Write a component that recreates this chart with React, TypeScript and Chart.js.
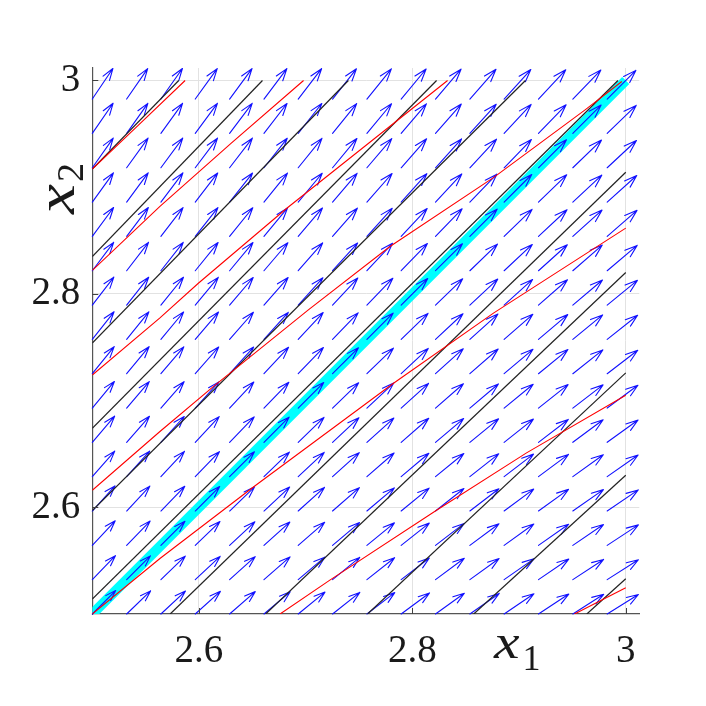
import React, { useEffect, useRef } from "react";
import { Chart, registerables } from "chart.js";

Chart.register(...registerables);

// ---- data ----
const X_RANGE = [2.5, 3.0127];
const Y_RANGE = [2.5, 3.0117];

const X_TICKS = [2.6, 2.8, 3];
const X_TICK_LABELS = ["2.6", "2.8", "3"];
const Y_TICKS = [2.6, 2.8, 3];
const Y_TICK_LABELS = ["2.6", "2.8", "3"];

const X_LABEL = ["x", "1"];
const Y_LABEL = ["x", "2"];

// quiver grid (tails)
const X1_GRID = [2.5, 2.5322, 2.5643, 2.5965, 2.6287, 2.6609, 2.693, 2.7252, 2.7574, 2.7895, 2.8217, 2.8539, 2.886, 2.9182, 2.9504, 2.9826];
const X2_GRID = [2.5, 2.5322, 2.5643, 2.5965, 2.6287, 2.6609, 2.693, 2.7252, 2.7574, 2.7895, 2.8217, 2.8539, 2.886, 2.9182, 2.9504, 2.9826];

// arrow direction (degrees) along each diagonal offset k = row - col, k = -15 .. 15
const ARROW_ANGLE = [32, 32.5, 33.3, 34.2, 35, 35.8, 36.6, 37.5, 38.4, 39.3, 40.2, 41.1, 42, 43, 44, 45, 46, 47, 47.9, 48.7, 49.5, 50.3, 51, 51.7, 52.4, 53, 53.6, 54.2, 54.8, 55.4, 56];
// arrow length (axis units) along each anti-diagonal s = row + col, s = 0 .. 30
const ARROW_LENGTH = [0.031, 0.0312, 0.0315, 0.0317, 0.0319, 0.0322, 0.0324, 0.0326, 0.0329, 0.0331, 0.0333, 0.0336, 0.0338, 0.034, 0.0343, 0.0345, 0.0347, 0.035, 0.0352, 0.0354, 0.0357, 0.0359, 0.0361, 0.0364, 0.0366, 0.0368, 0.0371, 0.0373, 0.0375, 0.0378, 0.038];

// cyan diagonal
const DIAG_X = [2.5, 3];
const DIAG_Y = [2.5, 3];

// black lines
const BLACK_X = [
  [2.5, 2.581],
  [2.5, 2.6595],
  [2.5, 2.74],
  [2.5, 2.8227],
  [2.5, 2.906],
  [2.5, 2.9927],
  [2.573, 3],
  [2.6625, 3],
  [2.758, 3],
  [2.8575, 3],
  [2.9635, 3],
];
const BLACK_Y = [
  [2.917, 3],
  [2.835, 3],
  [2.754, 3],
  [2.674, 3],
  [2.597, 3],
  [2.514, 3],
  [2.5, 2.914],
  [2.5, 2.82],
  [2.5, 2.726],
  [2.5, 2.63],
  [2.5, 2.533],
];

// red curves
const RED_X = [
  [2.5, 2.543, 2.587],
  [2.5, 2.5634, 2.63, 2.698],
  [2.5, 2.5634, 2.5994, 2.682, 2.833],
  [2.5, 2.5634, 2.6134, 2.7025, 2.779, 2.876, 2.9619, 2.9963],
  [2.5, 2.5634, 2.651, 2.782, 2.876, 3.0],
  [2.676, 2.723, 2.823, 2.907, 3.0],
  [2.952, 3.0],
];
const RED_Y = [
  [2.917, 2.958, 3],
  [2.822, 2.882, 2.941, 3],
  [2.724, 2.7775, 2.81, 2.88, 3],
  [2.616, 2.671, 2.7131, 2.785, 2.8444, 2.909, 2.9725, 2.999],
  [2.5, 2.552, 2.619, 2.716, 2.782, 2.8616],
  [2.5, 2.532, 2.5975, 2.651, 2.705],
  [2.5, 2.5246],
];

const toPoints = (xs: number[], ys: number[]) => xs.map((x, i) => ({ x, y: ys[i] }));

const SERIF = "'Liberation Serif', serif";

const quiverPlugin = {
  id: "quiver",
  afterDatasetDraw(chart: any, args: any) {
    if (args.index !== 0) return;
    const { ctx, scales } = chart;
    const sx = scales.x;
    const sy = scales.y;
    const alpha = 0.32;
    const beta = 0.33;
    ctx.save();
    ctx.strokeStyle = "#1010ff";
    ctx.lineWidth = 1.1;
    ctx.lineCap = "round";
    ctx.lineJoin = "round";
    for (let r = 0; r < X2_GRID.length; r++) {
      for (let c = 0; c < X1_GRID.length; c++) {
        const ang = (ARROW_ANGLE[r - c + 15] * Math.PI) / 180;
        const len = ARROW_LENGTH[r + c];
        const u = len * Math.cos(ang);
        const v = len * Math.sin(ang);
        const x0 = X1_GRID[c];
        const y0 = X2_GRID[r];
        const x1 = x0 + u;
        const y1 = y0 + v;
        const hx1 = x1 - alpha * (u + beta * v);
        const hy1 = y1 - alpha * (v - beta * u);
        const hx2 = x1 - alpha * (u - beta * v);
        const hy2 = y1 - alpha * (v + beta * u);
        ctx.beginPath();
        ctx.moveTo(sx.getPixelForValue(x0), sy.getPixelForValue(y0));
        ctx.lineTo(sx.getPixelForValue(x1), sy.getPixelForValue(y1));
        ctx.moveTo(sx.getPixelForValue(hx1), sy.getPixelForValue(hy1));
        ctx.lineTo(sx.getPixelForValue(x1), sy.getPixelForValue(y1));
        ctx.lineTo(sx.getPixelForValue(hx2), sy.getPixelForValue(hy2));
        ctx.stroke();
      }
    }
    ctx.restore();
  },
};

const decorPlugin = {
  id: "decor",
  afterDraw(chart: any) {
    const { ctx, scales, chartArea } = chart;
    const sx = scales.x;
    const sy = scales.y;
    ctx.save();
    // inward tick marks
    ctx.strokeStyle = "#404040";
    ctx.lineWidth = 1;
    ctx.beginPath();
    X_TICKS.forEach((t) => {
      const px = Math.round(sx.getPixelForValue(t)) + 0.5;
      ctx.moveTo(px, chartArea.bottom);
      ctx.lineTo(px, chartArea.bottom - 6);
    });
    Y_TICKS.forEach((t) => {
      const py = Math.round(sy.getPixelForValue(t)) + 0.5;
      ctx.moveTo(chartArea.left, py);
      ctx.lineTo(chartArea.left + 6, py);
    });
    ctx.stroke();

    // axis titles
    ctx.fillStyle = "#1a1a1a";
    ctx.textAlign = "left";
    ctx.textBaseline = "alphabetic";
    // x1
    ctx.save();
    ctx.translate(494, 658);
    ctx.scale(1.2, 1);
    ctx.font = `italic 48px ${SERIF}`;
    ctx.fillText(X_LABEL[0], 0, 0);
    const wx = ctx.measureText(X_LABEL[0]).width * 1.2;
    ctx.restore();
    ctx.font = `36px ${SERIF}`;
    ctx.fillText(X_LABEL[1], 494 + wx + 3, 670);
    // x2 (rotated)
    ctx.save();
    ctx.translate(74, 214);
    ctx.rotate(-Math.PI / 2);
    ctx.save();
    ctx.scale(1.25, 1);
    ctx.font = `italic 54px ${SERIF}`;
    ctx.fillText(Y_LABEL[0], 0, 0);
    const wy = ctx.measureText(Y_LABEL[0]).width * 1.25;
    ctx.restore();
    ctx.font = `38px ${SERIF}`;
    ctx.fillText(Y_LABEL[1], wy + 2, 9);
    ctx.restore();
    ctx.restore();
  },
};

export default function App() {
  const ref = useRef<HTMLCanvasElement | null>(null);
  useEffect(() => {
    if (!ref.current) return;
    const datasets: any[] = [];
    datasets.push({
      data: toPoints(DIAG_X, DIAG_Y),
      showLine: true,
      borderColor: "#00ffff",
      borderWidth: 10,
      borderCapStyle: "butt",
      pointRadius: 0,
      order: 3,
    });
    BLACK_X.forEach((xs, i) => {
      datasets.push({
        data: toPoints(xs, BLACK_Y[i]),
        showLine: true,
        borderColor: "#222222",
        borderWidth: 1.2,
        pointRadius: 0,
        order: 2,
      });
    });
    RED_X.forEach((xs, i) => {
      datasets.push({
        data: toPoints(xs, RED_Y[i]),
        showLine: true,
        borderColor: "#ff0000",
        borderWidth: 1.1,
        pointRadius: 0,
        order: 1,
      });
    });

    const tickFont = { family: SERIF, size: 39 };
    const chart = new Chart(ref.current, {
      type: "scatter",
      data: { datasets },
      plugins: [quiverPlugin, decorPlugin],
      options: {
        animation: false,
        responsive: false,
        maintainAspectRatio: false,
        layout: { padding: { left: 0, top: 68, right: 66.7, bottom: 0 } },
        plugins: { legend: { display: false }, tooltip: { enabled: false } },
        scales: {
          x: {
            type: "linear",
            min: X_RANGE[0],
            max: X_RANGE[1],
            afterBuildTicks: (s: any) => {
              s.ticks = X_TICKS.map((v) => ({ value: v }));
            },
            afterFit: (s: any) => {
              s.height = 92;
            },
            ticks: {
              callback: (_v: any, i: number) => X_TICK_LABELS[i],
              font: tickFont,
              color: "#1a1a1a",
              padding: 14,
              maxRotation: 0,
              autoSkip: false,
            },
            grid: { color: "#e2e2e2", lineWidth: 1, drawTicks: false },
            border: { display: true, color: "#555555", width: 1.2 },
          },
          y: {
            type: "linear",
            min: Y_RANGE[0],
            max: Y_RANGE[1],
            afterBuildTicks: (s: any) => {
              s.ticks = Y_TICKS.map((v) => ({ value: v }));
            },
            afterFit: (s: any) => {
              s.width = 92.3;
            },
            ticks: {
              callback: (_v: any, i: number) => Y_TICK_LABELS[i],
              font: tickFont,
              color: "#1a1a1a",
              padding: 12,
              autoSkip: false,
            },
            grid: { color: "#e2e2e2", lineWidth: 1, drawTicks: false },
            border: { display: true, color: "#555555", width: 1.2 },
          },
        },
      } as any,
    });
    return () => chart.destroy();
  }, []);

  return (
    <div style={{ position: "absolute", left: 0, top: 0, width: 706, height: 706, background: "#ffffff" }}>
      <canvas ref={ref} width={706} height={706} style={{ width: 706, height: 706, display: "block" }} />
    </div>
  );
}
